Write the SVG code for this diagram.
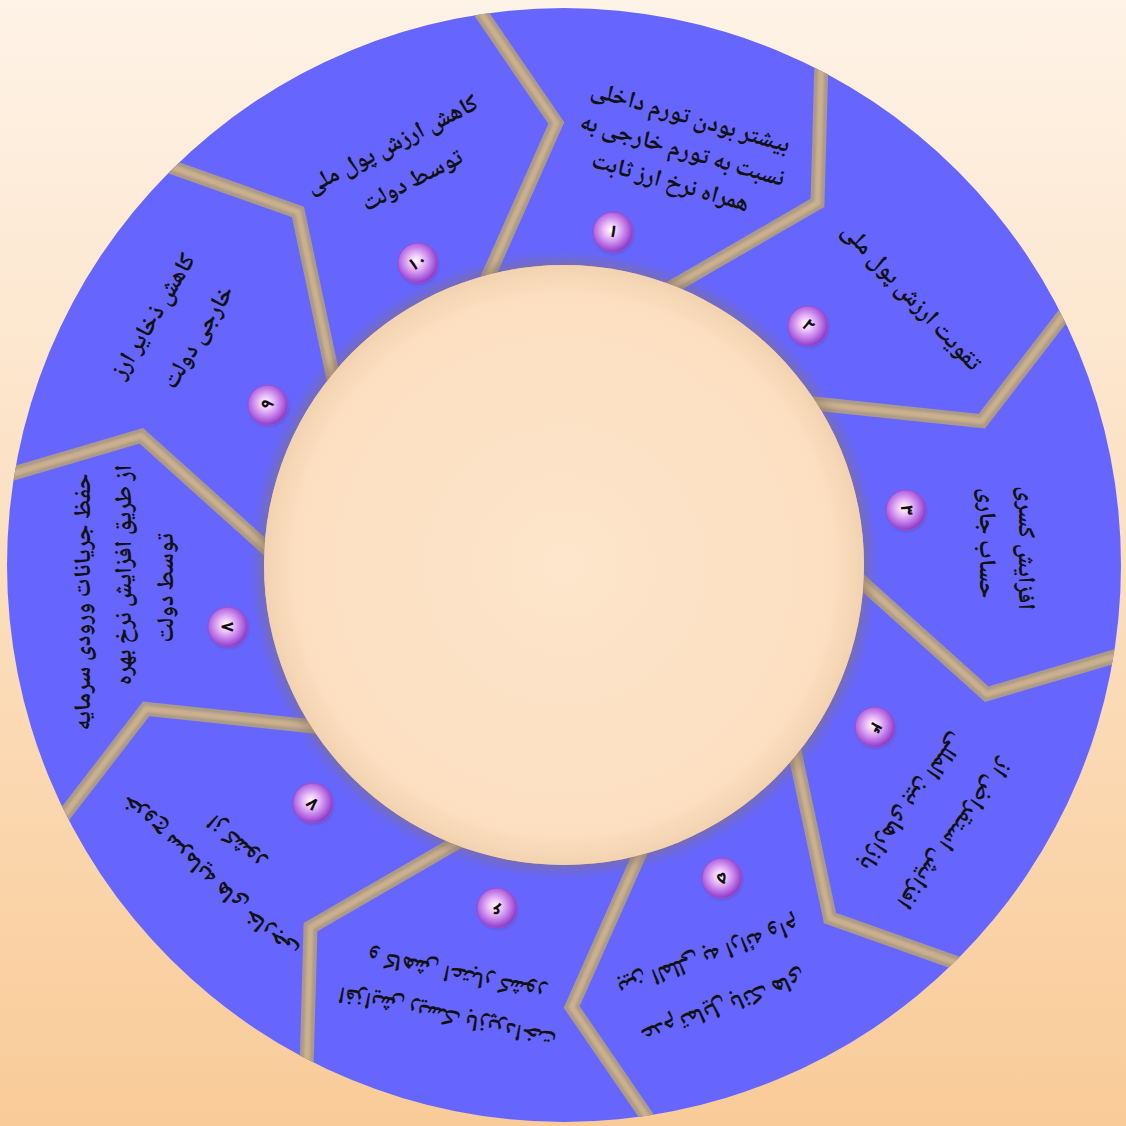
<svg xmlns="http://www.w3.org/2000/svg" width="1126" height="1126" viewBox="0 0 1126 1126">
<defs>
  <linearGradient id="bg" x1="0" y1="0" x2="0" y2="1">
    <stop offset="0" stop-color="#fef3e7"/>
    <stop offset="1" stop-color="#f9cb98"/>
  </linearGradient>
  <radialGradient id="disc" cx="0.5" cy="0.5" r="0.5">
    <stop offset="0" stop-color="#fde6cb"/>
    <stop offset="0.9" stop-color="#fcdfc1"/>
    <stop offset="1" stop-color="#f2d2b0"/>
  </radialGradient>
  <radialGradient id="badge" cx="0.45" cy="0.45" r="0.55">
    <stop offset="0" stop-color="#ffffff"/>
    <stop offset="0.3" stop-color="#eec4fa"/>
    <stop offset="0.75" stop-color="#b569e2"/>
    <stop offset="1" stop-color="#8c3cc4"/>
  </radialGradient>
  <clipPath id="ringClip">
    <path clip-rule="evenodd" d="M7 565 A557 557 0 1 0 1121 565 A557 557 0 1 0 7 565 Z M264 565 A300 300 0 1 0 864 565 A300 300 0 1 0 264 565 Z"/>
  </clipPath>
  <filter id="blur6" x="-20%" y="-20%" width="140%" height="140%"><feGaussianBlur stdDeviation="6"/></filter>
  <filter id="blur1" x="-5%" y="-5%" width="110%" height="110%"><feGaussianBlur stdDeviation="1"/></filter>
  <filter id="bsh" x="-40%" y="-40%" width="180%" height="180%"><feGaussianBlur stdDeviation="1.5"/></filter>
</defs>
<style>
  .t{font-family:"Noto Naskh Arabic","Noto Sans Arabic","DejaVu Sans",sans-serif;font-size:24px;font-weight:bold;fill:#111;text-anchor:middle;dominant-baseline:central}
  .n{font-family:"Noto Sans Arabic","DejaVu Sans",sans-serif;font-size:17px;font-weight:bold;fill:#111;text-anchor:middle;dominant-baseline:central}
  .b{fill:url(#badge);stroke:#9a4fd0;stroke-width:1}
  .bs{fill:#5a3a8a;opacity:0.3;filter:url(#bsh)}
  .div1{fill:none;stroke:#ab9a88;stroke-width:14;stroke-linejoin:miter}
  .div2{fill:none;stroke:#cbb08d;stroke-width:6;stroke-linejoin:miter;filter:url(#blur1)}
</style>
<rect width="1126" height="1126" fill="url(#bg)"/>

<g id="ring">
  <path fill="#6666ff" fill-rule="evenodd" d="M7 565 A557 557 0 1 0 1121 565 A557 557 0 1 0 7 565 Z M264 565 A300 300 0 1 0 864 565 A300 300 0 1 0 264 565 Z"/>
</g>

<g id="connectors" clip-path="url(#ringClip)">
  <g>
    <polyline class="div1" points="467.6,-6.5 556.3,123.1 482.8,288.3"/>
    <polyline class="div1" points="821.9,45.9 817.5,202.9 661,293.4"/>
    <polyline class="div1" points="1077.8,296.7 981.9,421.1 802.1,402.2"/>
    <polyline class="div1" points="1137.4,649.8 986.7,694.2 852.2,573.3"/>
    <polyline class="div1" points="978,970.7 830,918 792.4,741.1"/>
    <polyline class="div1" points="660.4,1136.5 571.7,1007 645.2,841.7"/>
    <polyline class="div1" points="306.1,1084.1 310.5,927.1 467,836.6"/>
    <polyline class="div1" points="50.2,833.3 146.1,708.9 325.9,727.8"/>
    <polyline class="div1" points="-9.4,480.2 141.3,435.8 275.8,556.7"/>
    <polyline class="div1" points="150,159.3 298,212 335.6,388.9"/>
  </g>
  <g>
    <polyline class="div2" points="467.6,-6.5 556.3,123.1 482.8,288.3"/>
    <polyline class="div2" points="821.9,45.9 817.5,202.9 661,293.4"/>
    <polyline class="div2" points="1077.8,296.7 981.9,421.1 802.1,402.2"/>
    <polyline class="div2" points="1137.4,649.8 986.7,694.2 852.2,573.3"/>
    <polyline class="div2" points="978,970.7 830,918 792.4,741.1"/>
    <polyline class="div2" points="660.4,1136.5 571.7,1007 645.2,841.7"/>
    <polyline class="div2" points="306.1,1084.1 310.5,927.1 467,836.6"/>
    <polyline class="div2" points="50.2,833.3 146.1,708.9 325.9,727.8"/>
    <polyline class="div2" points="-9.4,480.2 141.3,435.8 275.8,556.7"/>
    <polyline class="div2" points="150,159.3 298,212 335.6,388.9"/>
  </g>
</g>

<g id="center-disc">
  <circle cx="564" cy="565" r="306" fill="#8a7464" opacity="0.5" filter="url(#blur6)"/>
  <circle cx="564" cy="565" r="300" fill="url(#disc)"/>
</g>

<g id="seg1">
  <text class="t" transform="translate(690,119) rotate(16)">بیشتر بودن تورم داخلی</text>
  <text class="t" transform="translate(682,152) rotate(16)">نسبت به تورم خارجی به</text>
  <text class="t" transform="translate(670,184) rotate(16)">همراه نرخ ارز ثابت</text>
  <circle class="bs" cx="614" cy="234" r="20"/>
  <circle class="b" cx="613" cy="232" r="20"/>
  <text class="n" transform="translate(613,232) rotate(16)">۱</text>
</g>
<g id="seg2">
  <text class="t" transform="translate(910,298) rotate(47)">تقویت ارزش پول ملی</text>
  <circle class="bs" cx="809" cy="328" r="20"/>
  <circle class="b" cx="808" cy="326" r="20"/>
  <text class="n" transform="translate(808,326) rotate(47)">۲</text>
</g>
<g id="seg3">
  <text class="t" transform="translate(1024,548) rotate(90)">افزایش کسری</text>
  <text class="t" transform="translate(985,543) rotate(90)">حساب جاری</text>
  <circle class="bs" cx="907" cy="512" r="20"/>
  <circle class="b" cx="906" cy="510" r="20"/>
  <text class="n" transform="translate(906,510) rotate(90)">۳</text>
</g>
<g id="seg4">
  <text class="t" transform="translate(953,833) rotate(126)">افزایش استقراض از</text>
  <text class="t" transform="translate(911,801) rotate(126)">بازارهای بین المللی</text>
  <circle class="bs" cx="876" cy="729" r="20"/>
  <circle class="b" cx="875" cy="727" r="20"/>
  <text class="n" transform="translate(875,727) rotate(126)">۴</text>
</g>
<g id="seg5">
  <text class="t" transform="translate(723,1005) rotate(160)">عدم تمایل بانک های</text>
  <text class="t" transform="translate(708,955) rotate(160)">بین المللی به ارائه وام</text>
  <circle class="bs" cx="723" cy="880" r="20"/>
  <circle class="b" cx="722" cy="878" r="20"/>
  <text class="n" transform="translate(722,878) rotate(160)">۵</text>
</g>
<g id="seg6">
  <text class="t" transform="translate(448,1015) rotate(192)">افزایش ریسک بازپرداخت</text>
  <text class="t" transform="translate(457,973) rotate(192)">و کاهش اعتبار کشور</text>
  <circle class="bs" cx="498" cy="910" r="20"/>
  <circle class="b" cx="497" cy="908" r="20"/>
  <text class="n" transform="translate(497,908) rotate(192)">۶</text>
</g>
<g id="seg7">
  <text class="t" transform="translate(210,876) rotate(223)">خروج سرمایه های خارجی</text>
  <text class="t" transform="translate(237,841) rotate(223)">از کشور</text>
  <circle class="bs" cx="314" cy="805" r="20"/>
  <circle class="b" cx="313" cy="803" r="20"/>
  <text class="n" transform="translate(313,803) rotate(223)">۷</text>
</g>
<g id="seg8">
  <text class="t" transform="translate(84,602) rotate(-90)">حفظ جریانات ورودی سرمایه</text>
  <text class="t" transform="translate(125,575) rotate(-90)">از طریق افزایش نرخ بهره</text>
  <text class="t" transform="translate(167,588) rotate(-90)">توسط دولت</text>
  <circle class="bs" cx="229" cy="629" r="20"/>
  <circle class="b" cx="228" cy="627" r="20"/>
  <text class="n" transform="translate(228,627) rotate(-90)">۸</text>
</g>
<g id="seg9">
  <text class="t" transform="translate(155,317) rotate(-59)">کاهش ذخایر ارز</text>
  <text class="t" transform="translate(200,338) rotate(-59)">خارجی دولت</text>
  <circle class="bs" cx="269" cy="407" r="20"/>
  <circle class="b" cx="268" cy="405" r="20"/>
  <text class="n" transform="translate(268,405) rotate(-59)">۹</text>
</g>
<g id="seg10">
  <text class="t" transform="translate(393,146) rotate(-27)">کاهش ارزش پول ملی</text>
  <text class="t" transform="translate(413,182) rotate(-27)">توسط دولت</text>
  <circle class="bs" cx="419" cy="265" r="20"/>
  <circle class="b" cx="418" cy="263" r="20"/>
  <text class="n" transform="translate(418,263) rotate(-27)">۱۰</text>
</g>
</svg>
